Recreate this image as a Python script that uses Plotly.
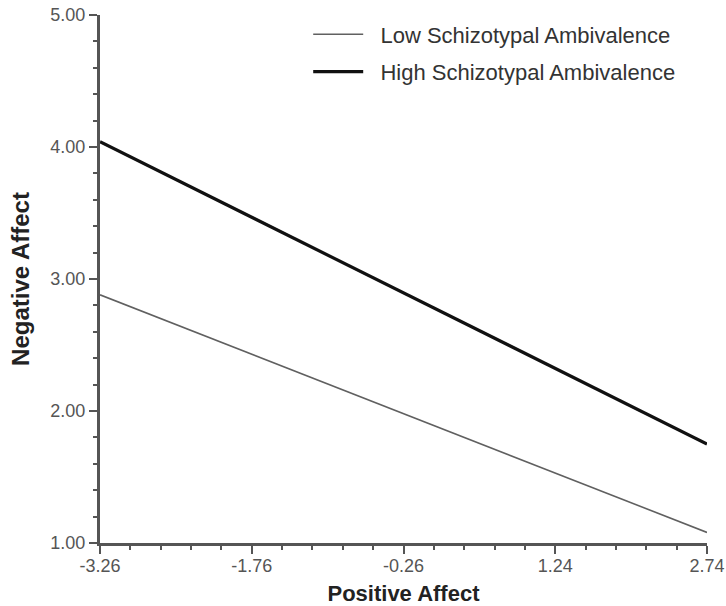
import plotly.graph_objects as go

x_vals = [-3.26, 2.74]
low_vals = [2.88, 1.08]
high_vals = [4.04, 1.75]
x_ticks = [-3.26, -1.76, -0.26, 1.24, 2.74]
x_tick_labels = ["-3.26", "-1.76", "-0.26", "1.24", "2.74"]
y_ticks = [1, 2, 3, 4, 5]
y_tick_labels = ["1.00", "2.00", "3.00", "4.00", "5.00"]
series_names = ["Low Schizotypal Ambivalence", "High Schizotypal Ambivalence"]

FONT = "Arial, Liberation Sans, sans-serif"
PAD = "\u00a0\u00a0"

fig = go.Figure()
fig.add_trace(go.Scatter(x=x_vals, y=low_vals, mode="lines", showlegend=True,
                         name=PAD + series_names[0],
                         line=dict(color="#606060", width=1.6), legend="legend"))
fig.add_trace(go.Scatter(x=x_vals, y=high_vals, mode="lines", showlegend=True,
                         name=PAD + series_names[1],
                         line=dict(color="#111111", width=3.2), legend="legend2"))

axis_common = dict(showgrid=False, zeroline=False, showline=True, linecolor="#555555",
                   linewidth=3, ticks="outside", tickcolor="#555555", tickwidth=2,
                   ticklen=8, automargin=False,
                   tickfont=dict(family=FONT, size=18, color="#555555"))

legend_common = dict(xanchor="left", yanchor="top", bgcolor="rgba(0,0,0,0)", itemwidth=50,
                     font=dict(family=FONT, size=22, color="#333333"))

fig.update_layout(
    width=726, height=606,
    margin=dict(l=100, r=19, t=15, b=63),
    plot_bgcolor="white", paper_bgcolor="white",
    showlegend=True,
    xaxis=dict(range=[-3.26, 2.74], tickvals=x_ticks, ticktext=x_tick_labels,
               ticklabelstandoff=-4,
               title=dict(text="<b>Positive Affect</b>", standoff=12,
                          font=dict(family=FONT, size=22, color="#222222")),
               minor=dict(dtick=0.3, tick0=-3.26, ticks="outside", ticklen=4, tickwidth=2, tickcolor="#555555"),
               **axis_common),
    yaxis=dict(range=[1, 5], tickvals=y_ticks, ticktext=y_tick_labels,
               title=dict(text="<b>Negative Affect</b>", standoff=14,
                          font=dict(family=FONT, size=24, color="#222222")),
               minor=dict(dtick=0.2, tick0=1, ticks="outside", ticklen=4, tickwidth=2, tickcolor="#555555"),
               **axis_common),
    legend=dict(x=0.343, y=1.003, **legend_common),
    legend2=dict(x=0.343, y=0.932, **legend_common),
)

fig.write_html("out.html", config={"displayModeBar": False},
               post_script="document.body.style.margin='0';")
